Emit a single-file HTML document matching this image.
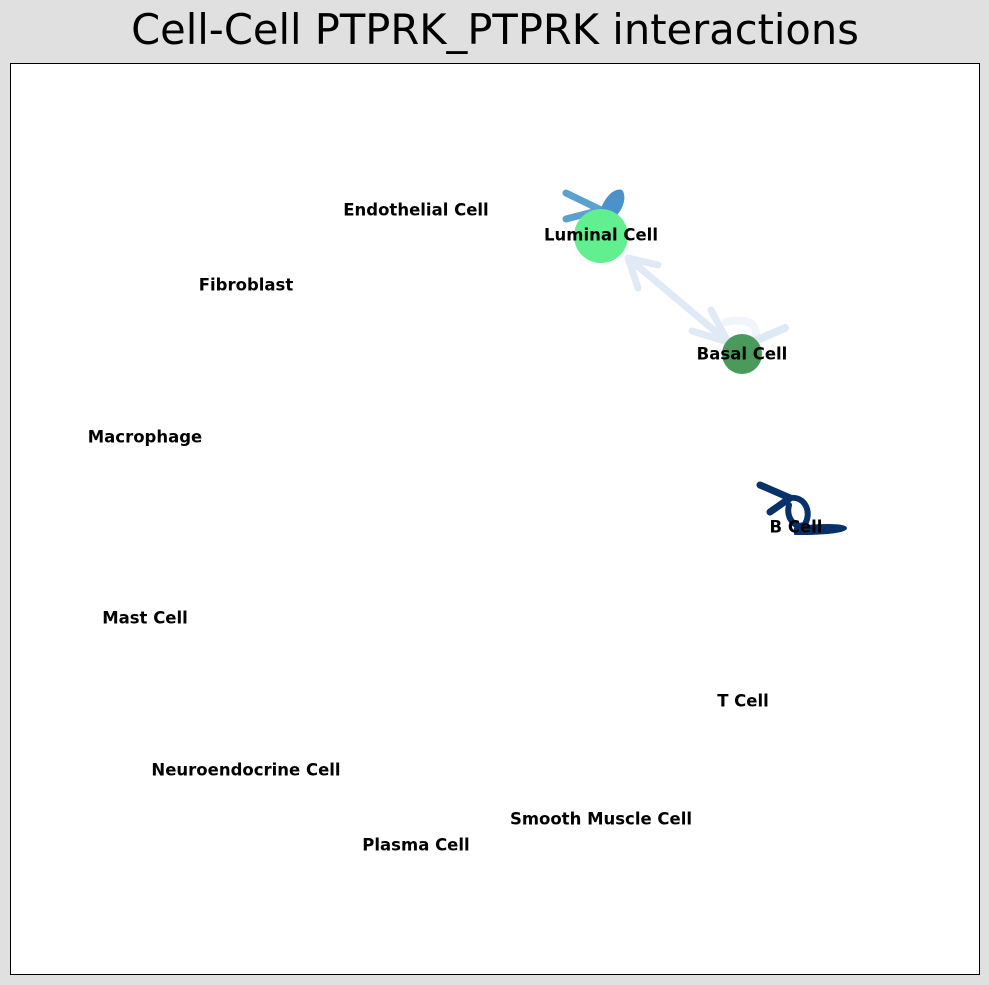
<!DOCTYPE html>
<html><head><meta charset="utf-8"><style>
html,body{margin:0;padding:0;background:#e0e0e0;}
svg{display:block}
text{font-family:"DejaVu Sans","Liberation Sans",sans-serif;}
.l{font-size:16.5px;font-weight:bold;fill:#000;text-anchor:middle;dominant-baseline:central}
</style></head><body>
<svg width="989" height="985" viewBox="0 0 989 985" xmlns="http://www.w3.org/2000/svg">
<rect x="0" y="0" width="989" height="985" fill="#e0e0e0"/>
<text x="495" y="44" font-size="41.6" text-anchor="middle" fill="#000">Cell-Cell PTPRK_PTPRK interactions</text>
<rect x="10.5" y="63.5" width="969" height="911" fill="#fff" stroke="#000" stroke-width="1"/>
<g fill="none" stroke-linecap="round" stroke-linejoin="round">
<path d="M726 322 C745 318 760 322 755 340" stroke="#f0f5fb" stroke-width="8"/>
<path d="M757 340 L785 328" stroke="#dde9f5" stroke-width="8"/>
<path d="M628 258 L728 342" stroke="#dfeaf6" stroke-width="7"/>
<path d="M658 265 L628 258 L638 288" stroke="#dfeaf6" stroke-width="7"/>
<path d="M692 331 L728 342 L711 310" stroke="#dfeaf6" stroke-width="7"/>
<path d="M566 193 L601 210 L566 219" stroke="#5aa0d0" stroke-width="7"/>
<path d="M604 210 C608 200 614 193 620 193 C623 200 618 210 612 215 Z" fill="#4a92c9" stroke="#4a92c9" stroke-width="7"/>
<path d="M760 485 L790 498 L770 512" stroke="#08306b" stroke-width="7"/>
<path d="M790 498 C805 496 812 512 805 524 C798 530 785 520 789 505" stroke="#08306b" stroke-width="6"/>
<path d="M795 528 C815 524 845 524 846 528 C845 533 815 534 795 534 Z" fill="#08306b" stroke="#08306b" stroke-width="2"/>
</g>
<circle cx="601" cy="236" r="27" fill="#62ef90"/>
<circle cx="742" cy="354" r="20" fill="#4a9a5c"/>
<text class="l" x="416" y="210">Endothelial Cell</text>
<text class="l" x="601" y="235">Luminal Cell</text>
<text class="l" x="246" y="285">Fibroblast</text>
<text class="l" x="742" y="354">Basal Cell</text>
<text class="l" x="145" y="437">Macrophage</text>
<text class="l" x="796" y="527">B Cell</text>
<text class="l" x="145" y="618">Mast Cell</text>
<text class="l" x="743" y="701">T Cell</text>
<text class="l" x="246" y="770">Neuroendocrine Cell</text>
<text class="l" x="601" y="819">Smooth Muscle Cell</text>
<text class="l" x="416" y="845">Plasma Cell</text>
</svg>
</body></html>
